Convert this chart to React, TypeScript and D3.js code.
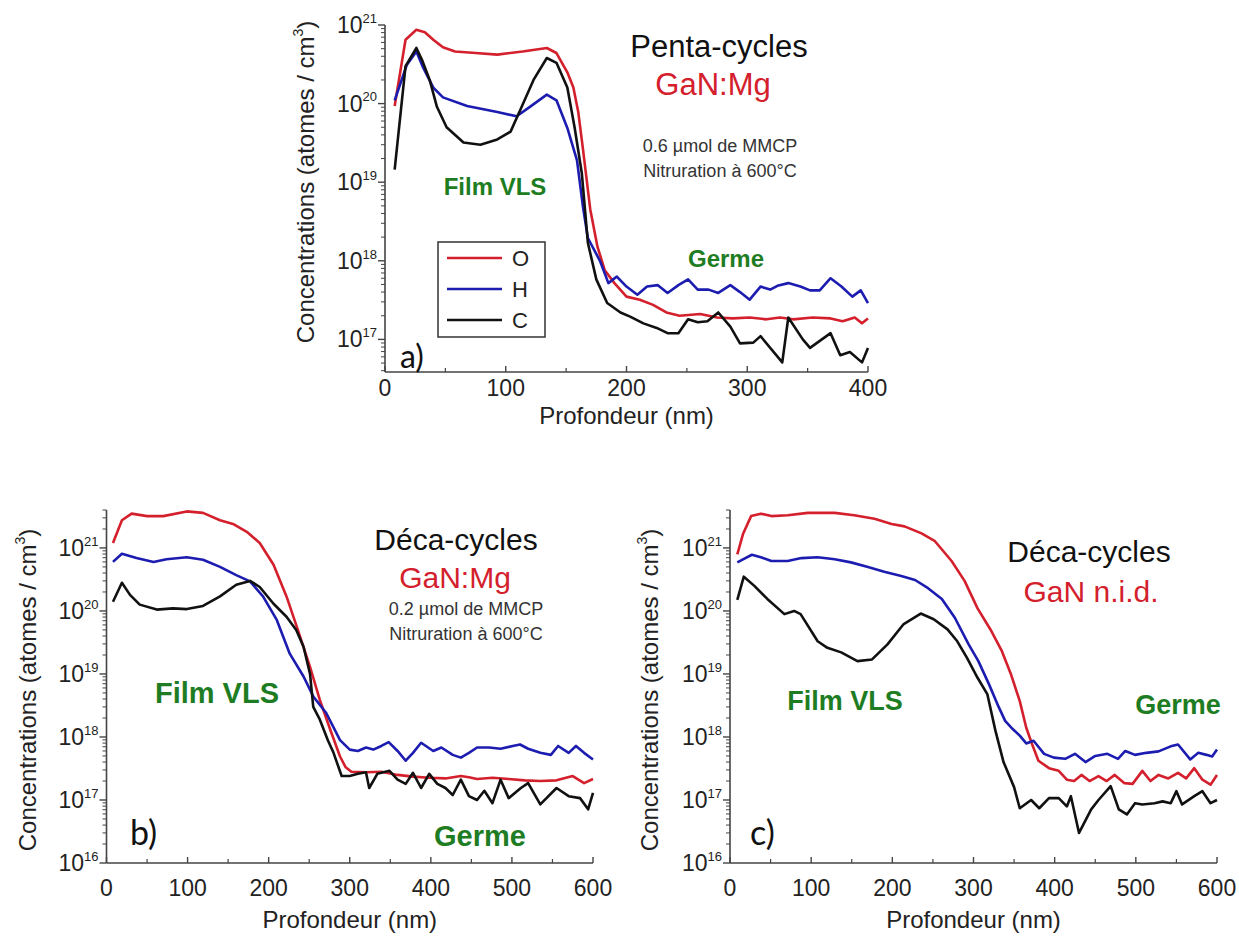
import React from "react";
import * as d3 from "d3";

// ---------- Data ----------
// Panel a) Penta-cycles GaN:Mg
const aDepthO = [8, 17, 26, 33, 40, 48, 58, 75, 93, 114, 134, 142, 151, 156, 160, 164, 170, 176, 182, 190, 200, 211, 222, 233, 244, 261, 275, 288, 302, 316, 327, 338, 354, 369, 379, 389, 395, 400];
const aValO = [9.3e19, 6.5e20, 8.7e20, 8.1e20, 6.5e20, 5.2e20, 4.6e20, 4.4e20, 4.2e20, 4.6e20, 5.1e20, 4.4e20, 2.5e20, 1.6e20, 7.9e19, 2.6e19, 4.5e18, 1.5e18, 7.6e17, 5.2e17, 3.5e17, 3.2e17, 2.75e17, 2.2e17, 2.0e17, 2.1e17, 1.9e17, 1.85e17, 1.9e17, 1.8e17, 1.9e17, 1.8e17, 1.9e17, 1.85e17, 1.7e17, 1.9e17, 1.6e17, 1.85e17];
const aDepthH = [8, 18, 26, 31, 40, 48, 68, 93, 109, 120, 134, 142, 151, 159, 164, 168, 178, 185, 192, 200, 209, 217, 226, 234, 243, 251, 259, 268, 276, 286, 294, 302, 311, 319, 325, 334, 344, 352, 360, 369, 378, 387, 394, 400];
const aValH = [1.1e20, 3.1e20, 4.6e20, 3.0e20, 1.6e20, 1.2e20, 9.3e19, 7.8e19, 6.9e19, 9.1e19, 1.3e20, 1.1e20, 4.9e19, 1.9e19, 4.8e18, 1.95e18, 1.0e18, 5.2e17, 6.3e17, 4.7e17, 3.7e17, 4.7e17, 4.9e17, 3.9e17, 4.9e17, 5.8e17, 4.3e17, 4.3e17, 3.9e17, 4.9e17, 4.0e17, 3.2e17, 4.7e17, 4.3e17, 4.8e17, 5.2e17, 4.7e17, 4.2e17, 4.2e17, 6.0e17, 4.7e17, 3.5e17, 4.2e17, 2.9e17];
const aDepthC = [8, 17, 26, 31, 37, 43, 51, 65, 79, 93, 104, 112, 123, 134, 142, 151, 157, 163, 168, 175, 184, 195, 203, 214, 225, 234, 243, 251, 259, 267, 276, 286, 294, 305, 311, 329, 334, 346, 352, 369, 377, 385, 395, 400];
const aValC = [1.45e19, 3.0e20, 5.1e20, 3.5e20, 2.0e20, 9.1e19, 5.0e19, 3.2e19, 3.0e19, 3.5e19, 4.4e19, 8.3e19, 2.0e20, 3.8e20, 3.3e20, 1.6e20, 5.0e19, 1.3e19, 1.7e18, 5.8e17, 2.9e17, 2.2e17, 1.95e17, 1.6e17, 1.4e17, 1.2e17, 1.2e17, 1.8e17, 1.65e17, 1.7e17, 2.2e17, 1.45e17, 8.9e16, 9.1e16, 1.1e17, 5.1e16, 1.9e17, 1.0e17, 7.8e16, 1.2e17, 6.3e16, 6.9e16, 5.1e16, 7.8e16];

// Panel b) Déca-cycles GaN:Mg
const bDepthO = [8, 19, 31, 50, 70, 99, 119, 140, 156, 173, 189, 206, 222, 236, 251, 263, 276, 288, 295, 302, 320, 339, 359, 378, 398, 418, 437, 447, 457, 476, 496, 516, 535, 555, 575, 589, 600];
const bValO = [1.2e21, 2.75e21, 3.5e21, 3.2e21, 3.2e21, 3.8e21, 3.6e21, 2.75e21, 2.4e21, 1.8e21, 1.2e21, 5.4e20, 1.7e20, 5.0e19, 1.3e19, 3.9e18, 1.3e18, 4.9e17, 3.3e17, 2.8e17, 2.75e17, 2.8e17, 2.5e17, 2.35e17, 2.25e17, 2.2e17, 2.4e17, 2.3e17, 2.15e17, 2.25e17, 2.15e17, 2.05e17, 2.0e17, 2.05e17, 2.4e17, 1.85e17, 2.15e17];
const bDepthH = [8, 19, 37, 58, 74, 99, 119, 140, 160, 177, 193, 210, 226, 243, 255, 271, 288, 300, 310, 320, 329, 339, 348, 359, 369, 378, 388, 403, 413, 427, 437, 447, 457, 472, 486, 501, 510, 520, 535, 548, 557, 570, 579, 589, 600];
const bValH = [6.0e20, 8.1e20, 6.9e20, 6.0e20, 6.6e20, 7.1e20, 6.5e20, 5.0e20, 3.7e20, 2.95e20, 1.7e20, 7.2e19, 2.1e19, 9.1e18, 4.4e18, 2.4e18, 8.9e17, 6.3e17, 6.0e17, 6.8e17, 6.3e17, 7.2e17, 8.3e17, 6.0e17, 4.2e17, 5.6e17, 8.1e17, 6.0e17, 6.8e17, 5.2e17, 4.7e17, 5.6e17, 6.8e17, 6.8e17, 6.5e17, 7.2e17, 7.6e17, 6.5e17, 5.6e17, 5.2e17, 7.2e17, 5.6e17, 7.2e17, 5.6e17, 4.4e17];
const bDepthC = [8, 19, 29, 41, 62, 82, 99, 119, 140, 160, 177, 189, 206, 222, 234, 243, 251, 255, 263, 273, 280, 290, 300, 310, 320, 324, 334, 349, 359, 369, 378, 388, 398, 408, 418, 427, 437, 447, 457, 466, 476, 486, 496, 511, 520, 535, 555, 570, 584, 594, 600];
const bValC = [1.4e20, 2.8e20, 1.8e20, 1.26e20, 1.05e20, 1.1e20, 1.07e20, 1.2e20, 1.7e20, 2.6e20, 3.0e20, 2.4e20, 1.3e20, 8.1e19, 5.0e19, 2.7e19, 1.0e19, 3.0e18, 1.9e18, 8.9e17, 5.6e17, 2.4e17, 2.4e17, 2.6e17, 2.75e17, 1.55e17, 2.6e17, 2.9e17, 2.1e17, 1.8e17, 2.7e17, 1.55e17, 2.6e17, 1.8e17, 1.55e17, 1.2e17, 2.1e17, 1.15e17, 1.0e17, 1.4e17, 8.9e16, 2.1e17, 1.07e17, 1.55e17, 1.85e17, 8.5e16, 1.55e17, 1.15e17, 1.07e17, 7.1e16, 1.3e17];

// Panel c) Déca-cycles GaN n.i.d.
const cDepthO = [9, 16, 26, 38, 51, 71, 96, 129, 153, 178, 199, 215, 236, 252, 273, 289, 305, 322, 335, 346, 357, 365, 372, 380, 393, 405, 415, 424, 433, 443, 454, 464, 474, 486, 496, 508, 518, 528, 540, 552, 562, 572, 582, 592, 600];
const cValO = [7.9e20, 1.66e21, 3.2e21, 3.5e21, 3.2e21, 3.3e21, 3.6e21, 3.6e21, 3.3e21, 2.9e21, 2.4e21, 2.2e21, 1.7e21, 1.3e21, 6.2e20, 3.0e20, 1.1e20, 4.8e19, 2.3e19, 1.0e19, 3.7e18, 1.4e18, 7.8e17, 4.2e17, 3.2e17, 2.9e17, 2.1e17, 2.0e17, 2.5e17, 2.0e17, 2.4e17, 2.0e17, 2.5e17, 1.85e17, 1.8e17, 2.9e17, 2.0e17, 2.5e17, 2.2e17, 2.7e17, 2.2e17, 3.2e17, 2.1e17, 1.75e17, 2.5e17];
const cDepthH = [9, 16, 27, 38, 51, 71, 88, 108, 129, 149, 170, 190, 211, 228, 244, 261, 277, 294, 306, 319, 331, 339, 348, 357, 365, 374, 387, 399, 413, 425, 438, 450, 465, 478, 487, 499, 513, 528, 543, 552, 567, 577, 587, 594, 600];
const cValH = [5.9e20, 6.6e20, 7.8e20, 7.1e20, 6.2e20, 6.2e20, 6.9e20, 7.1e20, 6.6e20, 5.9e20, 5.0e20, 4.2e20, 3.6e20, 3.1e20, 2.3e20, 1.55e20, 7.8e19, 2.95e19, 1.6e19, 6.9e18, 3.0e18, 1.8e18, 1.35e18, 1.05e18, 7.9e17, 8.7e17, 5.4e17, 4.7e17, 4.5e17, 5.4e17, 4.0e17, 5.0e17, 5.4e17, 4.5e17, 6.0e17, 5.2e17, 5.6e17, 5.9e17, 7.1e17, 7.6e17, 4.4e17, 5.6e17, 5.2e17, 4.9e17, 6.3e17];
const cDepthC = [9, 17, 30, 46, 67, 79, 87, 108, 120, 137, 157, 175, 194, 214, 235, 251, 268, 280, 292, 305, 317, 327, 337, 350, 357, 371, 381, 393, 405, 415, 420, 430, 445, 454, 469, 479, 489, 499, 508, 523, 533, 543, 550, 557, 572, 582, 592, 600];
const cValC = [1.5e20, 3.5e20, 2.5e20, 1.55e20, 8.9e19, 1.0e20, 8.9e19, 3.3e19, 2.6e19, 2.2e19, 1.6e19, 1.7e19, 2.95e19, 6.2e19, 9.1e19, 7.4e19, 5.1e19, 3.3e19, 1.8e19, 8.7e18, 4.8e18, 1.26e18, 4.0e17, 1.6e17, 7.4e16, 1.0e17, 7.4e16, 1.07e17, 1.07e17, 7.9e16, 1.15e17, 3.0e16, 7.1e16, 1.0e17, 1.66e17, 7.1e16, 5.9e16, 8.9e16, 8.5e16, 8.9e16, 9.5e16, 8.9e16, 1.38e17, 8.5e16, 1.15e17, 1.38e17, 8.9e16, 1.0e17];

const xTicksA = [0, 100, 200, 300, 400];
const xTicksBC = [0, 100, 200, 300, 400, 500, 600];
const yExpA = [17, 18, 19, 20, 21];
const yExpBC = [16, 17, 18, 19, 20, 21];
const legendLabels = ["O", "H", "C"];

// ---------- Styles ----------
const RED = "#d4202c";
const BLUE = "#1c1cb0";
const BLACK = "#111111";
const GREEN = "#1e7d22";
const AXIS = "#444";
const FONT = "'Liberation Sans', Arial, sans-serif";
const SERIES_COLORS = [RED, BLUE, BLACK];

type Series = { x: number[]; y: number[]; color: string };

type PanelProps = {
  left: number; right: number; top: number; bottom: number;
  xMax: number; yMin: number; yMax: number;
  xTicks: number[]; yExps: number[];
  series: Series[];
  tickFont: number; titleFont: number;
  xLabelY: number; xTitleY: number;
  yTitleX: number; yTitleY: number;
};

function Panel(p: PanelProps) {
  const x = d3.scaleLinear().domain([0, p.xMax]).range([p.left, p.right]);
  const y = d3.scaleLog().domain([p.yMin, p.yMax]).range([p.bottom, p.top]);
  const minorX: number[] = [];
  for (let i = 0; i < p.xTicks.length - 1; i++) minorX.push((p.xTicks[i] + p.xTicks[i + 1]) / 2);
  const minorY: number[] = [];
  const lo = Math.floor(Math.log10(p.yMin));
  const hi = Math.ceil(Math.log10(p.yMax));
  for (let k = lo; k <= hi; k++) {
    for (let m = 2; m <= 9; m++) {
      const v = m * Math.pow(10, k);
      if (v >= p.yMin * 0.999 && v <= p.yMax * 1.001) minorY.push(v);
    }
  }
  const line = d3.line<[number, number]>().x((d) => x(d[0])).y((d) => y(d[1]));
  const supSize = Math.round(p.tickFont * 0.58);
  return (
    <g>
      {p.series.map((s, i) => (
        <path key={i} d={line(s.x.map((v, j) => [v, s.y[j]] as [number, number])) || ""}
          fill="none" stroke={s.color} strokeWidth={2.6} strokeLinejoin="round" />
      ))}
      {/* axes */}
      <line x1={p.left} x2={p.left} y1={p.top} y2={p.bottom} stroke={AXIS} strokeWidth={1.6} />
      <line x1={p.left} x2={p.right} y1={p.bottom} y2={p.bottom} stroke={AXIS} strokeWidth={1.6} />
      {p.xTicks.map((t) => (
        <g key={"xt" + t}>
          <line x1={x(t)} x2={x(t)} y1={p.bottom} y2={p.bottom - 6} stroke={AXIS} strokeWidth={1.4} />
          <text x={x(t)} y={p.xLabelY} textAnchor="middle" fontFamily={FONT} fontSize={p.tickFont} fill="#222">{t}</text>
        </g>
      ))}
      {minorX.map((t) => (
        <line key={"xm" + t} x1={x(t)} x2={x(t)} y1={p.bottom} y2={p.bottom - 4} stroke={AXIS} strokeWidth={1.2} />
      ))}
      {p.yExps.map((e) => {
        const yy = y(Math.pow(10, e));
        return (
          <g key={"ye" + e}>
            <line x1={p.left} x2={p.left - 7} y1={yy} y2={yy} stroke={AXIS} strokeWidth={1.4} />
            <text x={p.left - 8} y={yy + p.tickFont * 0.35} textAnchor="end" fontFamily={FONT} fontSize={p.tickFont} fill="#222">
              10<tspan dy={-p.tickFont * 0.45} fontSize={supSize}>{e}</tspan>
            </text>
          </g>
        );
      })}
      {minorY.map((v, i) => (
        <line key={"ym" + i} x1={p.left} x2={p.left - 4} y1={y(v)} y2={y(v)} stroke={AXIS} strokeWidth={1} />
      ))}
      <text x={(p.left + p.right) / 2} y={p.xTitleY} textAnchor="middle" fontFamily={FONT} fontSize={p.titleFont} fill="#222">
        Profondeur (nm)
      </text>
      <text transform={`translate(${p.yTitleX},${p.yTitleY}) rotate(-90)`} textAnchor="middle" fontFamily={FONT} fontSize={p.titleFont} fill="#222">
        Concentrations (atomes / cm<tspan dy={-p.titleFont * 0.45} fontSize={Math.round(p.titleFont * 0.6)}>3</tspan><tspan dy={p.titleFont * 0.45}>)</tspan>
      </text>
    </g>
  );
}

export default function App() {
  const seriesA: Series[] = [
    { x: aDepthO, y: aValO, color: RED },
    { x: aDepthH, y: aValH, color: BLUE },
    { x: aDepthC, y: aValC, color: BLACK },
  ];
  const seriesB: Series[] = [
    { x: bDepthO, y: bValO, color: RED },
    { x: bDepthH, y: bValH, color: BLUE },
    { x: bDepthC, y: bValC, color: BLACK },
  ];
  const seriesC: Series[] = [
    { x: cDepthO, y: cValO, color: RED },
    { x: cDepthH, y: cValH, color: BLUE },
    { x: cDepthC, y: cValC, color: BLACK },
  ];
  return (
    <svg width={1239} height={936} style={{ position: "absolute", left: 0, top: 0, background: "#fff" }}>
      <rect x={0} y={0} width={1239} height={936} fill="#fff" />
      <Panel left={385} right={868} top={25} bottom={372} xMax={400}
        yMin={Math.pow(10, 21 - 347 / 78.6)} yMax={1e21} xTicks={xTicksA} yExps={yExpA}
        series={seriesA} tickFont={23} titleFont={24} xLabelY={396} xTitleY={424}
        yTitleX={314} yTitleY={182} />
      <Panel left={106.5} right={593} top={510} bottom={863} xMax={600}
        yMin={1e16} yMax={4e21} xTicks={xTicksBC} yExps={yExpBC}
        series={seriesB} tickFont={23} titleFont={24} xLabelY={896} xTitleY={928}
        yTitleX={36} yTitleY={690} />
      <Panel left={730} right={1217} top={510} bottom={863} xMax={600}
        yMin={1e16} yMax={4e21} xTicks={xTicksBC} yExps={yExpBC}
        series={seriesC} tickFont={23} titleFont={24} xLabelY={896} xTitleY={928}
        yTitleX={658} yTitleY={690} />

      {/* Panel a annotations */}
      <g fontFamily={FONT}>
        <text x={719} y={57} textAnchor="middle" fontSize={31} fill="#111">Penta-cycles</text>
        <text x={713} y={95} textAnchor="middle" fontSize={31} fill={RED}>GaN:Mg</text>
        <text x={720} y={152} textAnchor="middle" fontSize={18} fill="#333">0.6 µmol de MMCP</text>
        <text x={720} y={177} textAnchor="middle" fontSize={18} fill="#333">Nitruration à 600°C</text>
        <text x={495} y={195} textAnchor="middle" fontSize={24} fontWeight="bold" fill={GREEN}>Film VLS</text>
        <text x={726} y={267} textAnchor="middle" fontSize={24} fontWeight="bold" fill={GREEN}>Germe</text>
        <text x={400} y={368} fontFamily="Lato, 'Open Sans', sans-serif" fontSize={32} fill="#111">a)</text>
        <rect x={438} y={242} width={107} height={95} fill="#fff" stroke="#333" strokeWidth={1.5} />
        {legendLabels.map((lab, i) => (
          <g key={lab}>
            <line x1={447} x2={502} y1={258 + i * 31} y2={258 + i * 31} stroke={SERIES_COLORS[i]} strokeWidth={2.6} />
            <text x={512} y={258 + i * 31 + 8} fontSize={22} fill="#222">{lab}</text>
          </g>
        ))}
      </g>

      {/* Panel b annotations */}
      <g fontFamily={FONT}>
        <text x={456} y={550} textAnchor="middle" fontSize={30} fill="#111">Déca-cycles</text>
        <text x={455} y={588} textAnchor="middle" fontSize={30} fill={RED}>GaN:Mg</text>
        <text x={466} y={615} textAnchor="middle" fontSize={18} fill="#333">0.2 µmol de MMCP</text>
        <text x={466} y={640} textAnchor="middle" fontSize={18} fill="#333">Nitruration à 600°C</text>
        <text x={217} y={703} textAnchor="middle" fontSize={29} fontWeight="bold" fill={GREEN}>Film VLS</text>
        <text x={480} y={846} textAnchor="middle" fontSize={29} fontWeight="bold" fill={GREEN}>Germe</text>
        <text x={130} y={845} fontFamily="Lato, 'Open Sans', sans-serif" fontSize={34} fill="#111">b)</text>
      </g>

      {/* Panel c annotations */}
      <g fontFamily={FONT}>
        <text x={1089} y={562} textAnchor="middle" fontSize={30} fill="#111">Déca-cycles</text>
        <text x={1091} y={602} textAnchor="middle" fontSize={30} fill={RED}>GaN n.i.d.</text>
        <text x={845} y={710} textAnchor="middle" fontSize={27} fontWeight="bold" fill={GREEN}>Film VLS</text>
        <text x={1178} y={714} textAnchor="middle" fontSize={27} fontWeight="bold" fill={GREEN}>Germe</text>
        <text x={750} y={845} fontFamily="Lato, 'Open Sans', sans-serif" fontSize={34} fill="#111">c)</text>
      </g>
    </svg>
  );
}
